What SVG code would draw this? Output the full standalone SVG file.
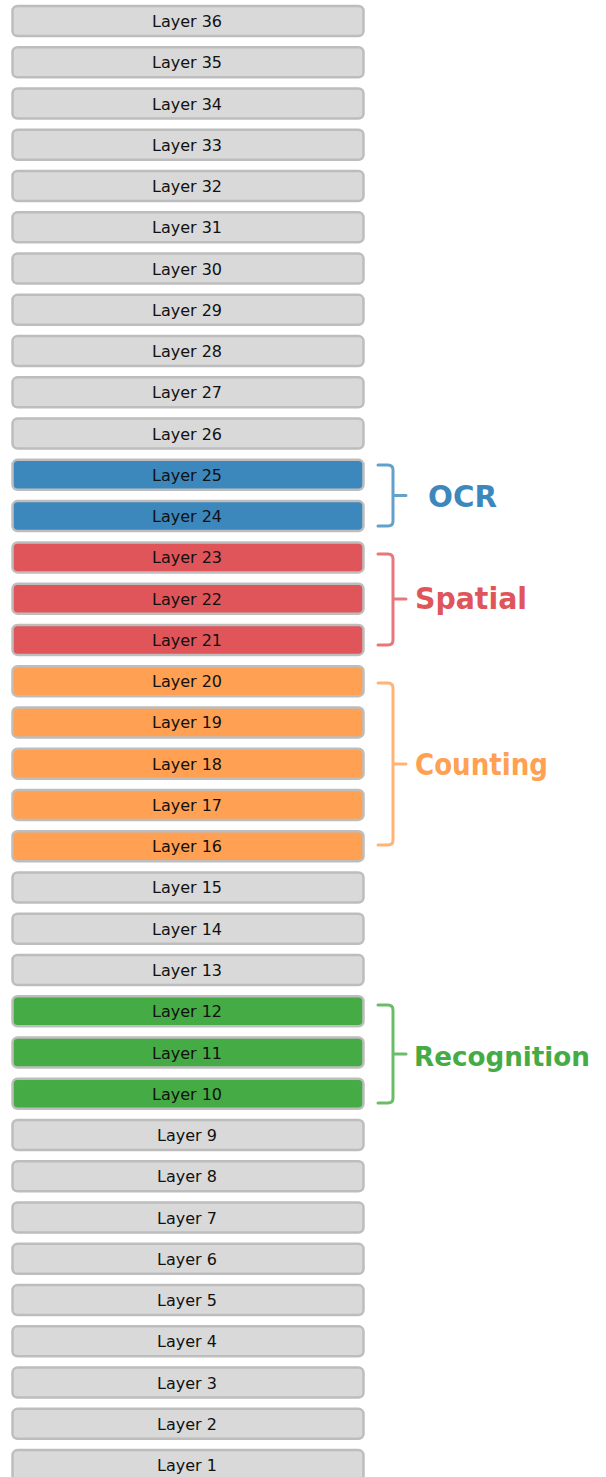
<svg xmlns="http://www.w3.org/2000/svg" width="606" height="1477" viewBox="0 0 606 1477">
<style>
.box{stroke:#bdbdbd;stroke-width:2.5}
.g{fill:#d9d9d9}.b{fill:#3c88bd}.r{fill:#e0555a}.o{fill:#ffa052}.gr{fill:#45ab45}
.lbl{font-family:"DejaVu Sans",sans-serif;font-size:16px;fill:#111;text-anchor:middle}
.br{fill:none;stroke-width:3;stroke-linecap:round;stroke-linejoin:round;opacity:0.8}
.cat{font-family:"DejaVu Sans",sans-serif;font-weight:bold;font-size:30px}
</style>
<rect width="606" height="1477" fill="#ffffff"/>
<g id="layer36" transform="translate(0,6)"><rect class="box g" x="12.5" y="0" width="351" height="30" rx="5"/><text class="lbl" x="187" y="21">Layer 36</text></g>
<g id="layer35" transform="translate(0,47.26)"><rect class="box g" x="12.5" y="0" width="351" height="30" rx="5"/><text class="lbl" x="187" y="21">Layer 35</text></g>
<g id="layer34" transform="translate(0,88.52)"><rect class="box g" x="12.5" y="0" width="351" height="30" rx="5"/><text class="lbl" x="187" y="21">Layer 34</text></g>
<g id="layer33" transform="translate(0,129.78)"><rect class="box g" x="12.5" y="0" width="351" height="30" rx="5"/><text class="lbl" x="187" y="21">Layer 33</text></g>
<g id="layer32" transform="translate(0,171.04)"><rect class="box g" x="12.5" y="0" width="351" height="30" rx="5"/><text class="lbl" x="187" y="21">Layer 32</text></g>
<g id="layer31" transform="translate(0,212.3)"><rect class="box g" x="12.5" y="0" width="351" height="30" rx="5"/><text class="lbl" x="187" y="21">Layer 31</text></g>
<g id="layer30" transform="translate(0,253.56)"><rect class="box g" x="12.5" y="0" width="351" height="30" rx="5"/><text class="lbl" x="187" y="21">Layer 30</text></g>
<g id="layer29" transform="translate(0,294.82)"><rect class="box g" x="12.5" y="0" width="351" height="30" rx="5"/><text class="lbl" x="187" y="21">Layer 29</text></g>
<g id="layer28" transform="translate(0,336.08)"><rect class="box g" x="12.5" y="0" width="351" height="30" rx="5"/><text class="lbl" x="187" y="21">Layer 28</text></g>
<g id="layer27" transform="translate(0,377.34)"><rect class="box g" x="12.5" y="0" width="351" height="30" rx="5"/><text class="lbl" x="187" y="21">Layer 27</text></g>
<g id="layer26" transform="translate(0,418.6)"><rect class="box g" x="12.5" y="0" width="351" height="30" rx="5"/><text class="lbl" x="187" y="21">Layer 26</text></g>
<g id="layer25" transform="translate(0,459.86)"><rect class="box b" x="12.5" y="0" width="351" height="30" rx="5"/><text class="lbl" x="187" y="21">Layer 25</text></g>
<g id="layer24" transform="translate(0,501.12)"><rect class="box b" x="12.5" y="0" width="351" height="30" rx="5"/><text class="lbl" x="187" y="21">Layer 24</text></g>
<g id="layer23" transform="translate(0,542.38)"><rect class="box r" x="12.5" y="0" width="351" height="30" rx="5"/><text class="lbl" x="187" y="21">Layer 23</text></g>
<g id="layer22" transform="translate(0,583.64)"><rect class="box r" x="12.5" y="0" width="351" height="30" rx="5"/><text class="lbl" x="187" y="21">Layer 22</text></g>
<g id="layer21" transform="translate(0,624.9)"><rect class="box r" x="12.5" y="0" width="351" height="30" rx="5"/><text class="lbl" x="187" y="21">Layer 21</text></g>
<g id="layer20" transform="translate(0,666.16)"><rect class="box o" x="12.5" y="0" width="351" height="30" rx="5"/><text class="lbl" x="187" y="21">Layer 20</text></g>
<g id="layer19" transform="translate(0,707.42)"><rect class="box o" x="12.5" y="0" width="351" height="30" rx="5"/><text class="lbl" x="187" y="21">Layer 19</text></g>
<g id="layer18" transform="translate(0,748.68)"><rect class="box o" x="12.5" y="0" width="351" height="30" rx="5"/><text class="lbl" x="187" y="21">Layer 18</text></g>
<g id="layer17" transform="translate(0,789.94)"><rect class="box o" x="12.5" y="0" width="351" height="30" rx="5"/><text class="lbl" x="187" y="21">Layer 17</text></g>
<g id="layer16" transform="translate(0,831.2)"><rect class="box o" x="12.5" y="0" width="351" height="30" rx="5"/><text class="lbl" x="187" y="21">Layer 16</text></g>
<g id="layer15" transform="translate(0,872.46)"><rect class="box g" x="12.5" y="0" width="351" height="30" rx="5"/><text class="lbl" x="187" y="21">Layer 15</text></g>
<g id="layer14" transform="translate(0,913.72)"><rect class="box g" x="12.5" y="0" width="351" height="30" rx="5"/><text class="lbl" x="187" y="21">Layer 14</text></g>
<g id="layer13" transform="translate(0,954.98)"><rect class="box g" x="12.5" y="0" width="351" height="30" rx="5"/><text class="lbl" x="187" y="21">Layer 13</text></g>
<g id="layer12" transform="translate(0,996.24)"><rect class="box gr" x="12.5" y="0" width="351" height="30" rx="5"/><text class="lbl" x="187" y="21">Layer 12</text></g>
<g id="layer11" transform="translate(0,1037.5)"><rect class="box gr" x="12.5" y="0" width="351" height="30" rx="5"/><text class="lbl" x="187" y="21">Layer 11</text></g>
<g id="layer10" transform="translate(0,1078.76)"><rect class="box gr" x="12.5" y="0" width="351" height="30" rx="5"/><text class="lbl" x="187" y="21">Layer 10</text></g>
<g id="layer9" transform="translate(0,1120.02)"><rect class="box g" x="12.5" y="0" width="351" height="30" rx="5"/><text class="lbl" x="187" y="21">Layer 9</text></g>
<g id="layer8" transform="translate(0,1161.28)"><rect class="box g" x="12.5" y="0" width="351" height="30" rx="5"/><text class="lbl" x="187" y="21">Layer 8</text></g>
<g id="layer7" transform="translate(0,1202.54)"><rect class="box g" x="12.5" y="0" width="351" height="30" rx="5"/><text class="lbl" x="187" y="21">Layer 7</text></g>
<g id="layer6" transform="translate(0,1243.8)"><rect class="box g" x="12.5" y="0" width="351" height="30" rx="5"/><text class="lbl" x="187" y="21">Layer 6</text></g>
<g id="layer5" transform="translate(0,1285.06)"><rect class="box g" x="12.5" y="0" width="351" height="30" rx="5"/><text class="lbl" x="187" y="21">Layer 5</text></g>
<g id="layer4" transform="translate(0,1326.32)"><rect class="box g" x="12.5" y="0" width="351" height="30" rx="5"/><text class="lbl" x="187" y="21">Layer 4</text></g>
<g id="layer3" transform="translate(0,1367.58)"><rect class="box g" x="12.5" y="0" width="351" height="30" rx="5"/><text class="lbl" x="187" y="21">Layer 3</text></g>
<g id="layer2" transform="translate(0,1408.84)"><rect class="box g" x="12.5" y="0" width="351" height="30" rx="5"/><text class="lbl" x="187" y="21">Layer 2</text></g>
<g id="layer1" transform="translate(0,1450.1)"><rect class="box g" x="12.5" y="0" width="351" height="30" rx="5"/><text class="lbl" x="187" y="21">Layer 1</text></g>
<g id="connectors">
<path class="br" stroke="#3c88bd" d="M378,465 H388 Q393,465 393,470 V521 Q393,526 388,526 H378 M393,495.5 H406"/>
<path class="br" stroke="#e0555a" d="M378,554 H388 Q393,554 393,559 V640 Q393,645 388,645 H378 M393,599 H406"/>
<path class="br" stroke="#ffa052" d="M378,683 H388 Q393,683 393,688 V840 Q393,845 388,845 H378 M393,764 H406"/>
<path class="br" stroke="#45ab45" d="M378,1005 H388 Q393,1005 393,1010 V1098 Q393,1103 388,1103 H378 M393,1054 H406"/>
</g>
<g id="label-ocr"><text class="cat" x="428" y="507" fill="#3c88bd" textLength="69" lengthAdjust="spacingAndGlyphs">OCR</text></g>
<g id="label-spatial"><text class="cat" x="415" y="609" fill="#e0555a" textLength="112" lengthAdjust="spacingAndGlyphs">Spatial</text></g>
<g id="label-counting"><text class="cat" x="415" y="775" fill="#ffa052" textLength="133" lengthAdjust="spacingAndGlyphs">Counting</text></g>
<g id="label-recognition"><text class="cat" x="414" y="1066" fill="#45ab45" style="font-size:26px" textLength="176" lengthAdjust="spacingAndGlyphs">Recognition</text></g>
</svg>
